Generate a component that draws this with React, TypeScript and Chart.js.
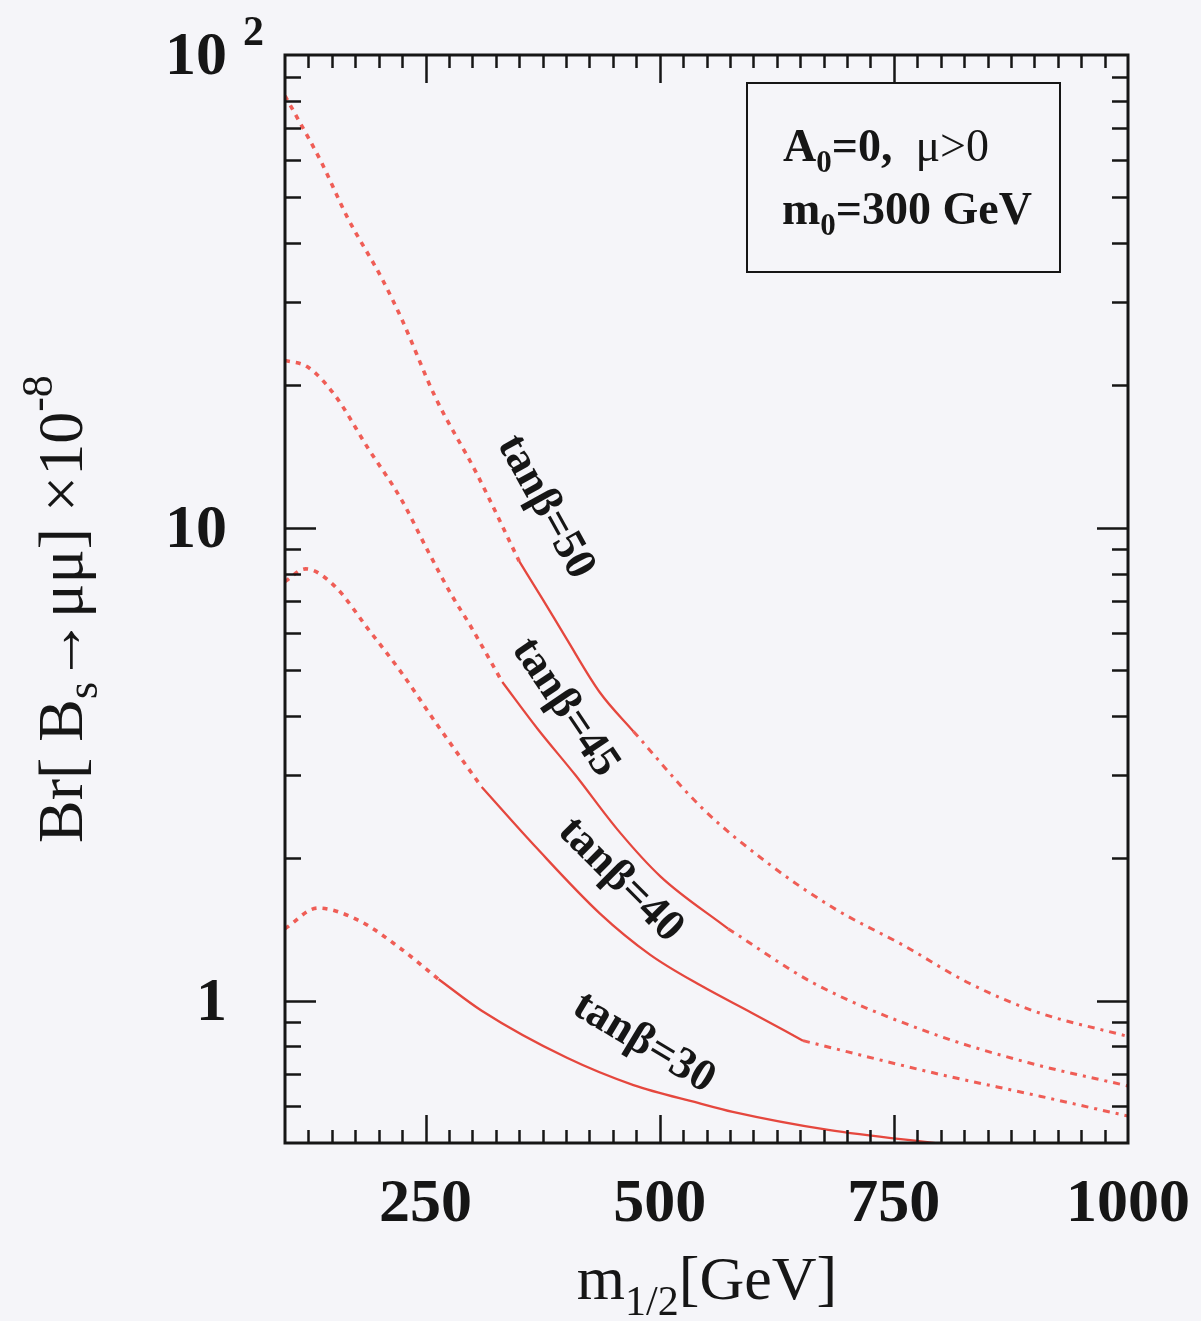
import React, { useEffect, useRef } from "react";
import { Chart, registerables } from "chart.js";

Chart.register(...registerables);

// Axis ranges
const X_MIN = 100;
const X_MAX = 1000;
const Y_MIN = 0.5;
const Y_MAX = 100;

// Tick values and labels
const X_MAJOR_TICKS = [250, 500, 750, 1000];
const X_MAJOR_LABELS = ["250", "500", "750", "1000"];
const X_MINOR_STEP = 25;
const Y_MAJOR_TICKS = [1, 10, 100];
const Y_MAJOR_LABELS = ["1", "10", "10"];
const Y_MINOR_TICKS = [0.6, 0.7, 0.8, 0.9, 2, 3, 4, 5, 6, 7, 8, 9, 20, 30, 40, 50, 60, 70, 80, 90];

// tanβ = 50 : m_1/2 [GeV] and Br × 10^-8
const M50_LOW = [100, 113, 138, 167, 203, 224, 261, 304, 350];
const BR50_LOW = [82, 73.7, 59.8, 45.2, 33.8, 27.8, 18.8, 13.1, 8.5];
const M50_MID = [350, 375, 400, 436, 472];
const BR50_MID = [8.5, 7.07, 5.85, 4.49, 3.71];
const M50_HIGH = [472, 544, 616, 688, 760, 830, 900, 1000];
const BR50_HIGH = [3.71, 2.57, 1.95, 1.56, 1.31, 1.09, 0.95, 0.84];

// tanβ = 45
const M45_LOW = [100, 124, 153, 189, 224, 253, 278, 296, 332];
const BR45_LOW = [22.6, 21.9, 19.1, 14.7, 11.5, 8.9, 7.2, 6.3, 4.72];
const M45_MID = [332, 370, 410, 455, 501, 573];
const BR45_MID = [4.72, 3.75, 3.0, 2.3, 1.83, 1.42];
const M45_HIGH = [573, 664, 789, 894, 1000];
const BR45_HIGH = [1.42, 1.09, 0.855, 0.739, 0.66];

// tanβ = 40
const M40_LOW = [100, 122, 153, 189, 224, 261, 310];
const BR40_LOW = [7.7, 8.19, 7.53, 6.1, 4.95, 3.87, 2.83];
const M40_MID = [310, 368, 436, 490, 544, 598, 653];
const BR40_MID = [2.83, 2.11, 1.53, 1.25, 1.076, 0.943, 0.823];
const M40_HIGH = [653, 793, 906, 1000];
const BR40_HIGH = [0.823, 0.703, 0.628, 0.57];

// tanβ = 30
const M30_LOW = [100, 135, 178, 221, 264];
const BR30_LOW = [1.42, 1.57, 1.48, 1.3, 1.11];
const M30_MID = [264, 310, 401, 472, 541, 578, 680, 800];
const BR30_MID = [1.11, 0.952, 0.757, 0.663, 0.608, 0.582, 0.533, 0.498];

// Curve annotations (text, anchor in data units, rotation in degrees)
const CURVE_LABELS = ["tanβ=50", "tanβ=45", "tanβ=40", "tanβ=30"];
const CURVE_LABEL_M = [378, 399, 458, 483];
const CURVE_LABEL_BR = [11.07, 4.17, 1.8, 0.814];
const CURVE_LABEL_ANGLE = [61, 56, 45, 31];

const SERIF = "'Liberation Serif', 'Times New Roman', serif";
const INK = "#161616";
const RED_SOLID = "#e5473e";
const RED_DASH = "#ef5d56";

const pts = (xs: number[], ys: number[]) => xs.map((x, i) => ({ x, y: ys[i] }));

type Run = { t: string; size: number; dy?: number; weight?: string };

function runsWidth(ctx: CanvasRenderingContext2D, runs: Run[]) {
  let w = 0;
  for (const r of runs) {
    ctx.font = `${r.weight ?? "normal"} ${r.size}px ${SERIF}`;
    w += ctx.measureText(r.t).width;
  }
  return w;
}

function drawRuns(ctx: CanvasRenderingContext2D, runs: Run[], x: number, y: number) {
  let cx = x;
  ctx.textAlign = "left";
  ctx.textBaseline = "alphabetic";
  for (const r of runs) {
    ctx.font = `${r.weight ?? "normal"} ${r.size}px ${SERIF}`;
    ctx.fillText(r.t, cx, y + (r.dy ?? 0));
    cx += ctx.measureText(r.t).width;
  }
}

const framePlugin = {
  id: "frameAndText",
  afterDraw(chart: any) {
    const { ctx, chartArea, scales } = chart;
    const { left, right, top, bottom } = chartArea;
    const xs = scales.x;
    const ys = scales.y;
    ctx.save();
    ctx.strokeStyle = INK;
    ctx.fillStyle = INK;
    ctx.lineCap = "butt";

    // frame
    ctx.lineWidth = 3;
    ctx.strokeRect(left, top, right - left, bottom - top);

    // x ticks, bottom and top, pointing inward
    ctx.lineWidth = 2.5;
    for (let v = X_MIN + X_MINOR_STEP; v < X_MAX; v += X_MINOR_STEP) {
      const px = Math.round(xs.getPixelForValue(v)) + 0.5;
      const len = X_MAJOR_TICKS.includes(v) ? 28 : 13;
      ctx.beginPath();
      ctx.moveTo(px, bottom);
      ctx.lineTo(px, bottom - len);
      ctx.moveTo(px, top);
      ctx.lineTo(px, top + len);
      ctx.stroke();
    }
    // y ticks, left and right, pointing inward
    const yTick = (v: number, len: number) => {
      const py = Math.round(ys.getPixelForValue(v)) + 0.5;
      ctx.beginPath();
      ctx.moveTo(left, py);
      ctx.lineTo(left + len, py);
      ctx.moveTo(right, py);
      ctx.lineTo(right - len, py);
      ctx.stroke();
    };
    Y_MINOR_TICKS.forEach((v) => yTick(v, 16));
    Y_MAJOR_TICKS.filter((v) => v < Y_MAX).forEach((v) => yTick(v, 31));

    // x tick labels
    ctx.font = `bold 62px ${SERIF}`;
    ctx.textAlign = "center";
    ctx.textBaseline = "alphabetic";
    X_MAJOR_TICKS.forEach((v, i) => {
      ctx.fillText(X_MAJOR_LABELS[i], xs.getPixelForValue(v), 1221);
    });

    // y tick labels
    ctx.textAlign = "right";
    ctx.textBaseline = "middle";
    Y_MAJOR_TICKS.forEach((v, i) => {
      ctx.font = `bold 62px ${SERIF}`;
      const py = ys.getPixelForValue(v);
      ctx.fillText(Y_MAJOR_LABELS[i], 227, py + 3);
      if (v === 100) {
        ctx.font = `bold 42px ${SERIF}`;
        ctx.textAlign = "left";
        ctx.textBaseline = "alphabetic";
        ctx.fillText("2", 243, 45);
        ctx.textAlign = "right";
        ctx.textBaseline = "middle";
      }
    });

    // x axis title
    const xTitle: Run[] = [
      { t: "m", size: 62 },
      { t: "1/2", size: 42, dy: 16 },
      { t: "[GeV]", size: 62 },
    ];
    const xw = runsWidth(ctx, xTitle);
    drawRuns(ctx, xTitle, 707 - xw / 2, 1299);

    // y axis title (rotated)
    const yTitle: Run[] = [
      { t: "Br[ B", size: 64 },
      { t: "s", size: 44, dy: 15 },
      { t: "→μμ] ×10", size: 64 },
      { t: "-8", size: 44, dy: -30 },
    ];
    ctx.save();
    ctx.translate(82, 843);
    ctx.rotate(-Math.PI / 2);
    drawRuns(ctx, yTitle, 0, 0);
    ctx.restore();

    // parameter box
    ctx.lineWidth = 2;
    ctx.strokeRect(747, 83, 313, 189);
    drawRuns(
      ctx,
      [
        { t: "A", size: 46, weight: "bold" },
        { t: "0", size: 31, dy: 11, weight: "bold" },
        { t: "=0,  ", size: 46, weight: "bold" },
        { t: "μ>0", size: 46 },
      ],
      783,
      161
    );
    drawRuns(
      ctx,
      [
        { t: "m", size: 46, weight: "bold" },
        { t: "0", size: 31, dy: 11, weight: "bold" },
        { t: "=300 GeV", size: 46, weight: "bold" },
      ],
      782,
      224
    );

    // curve labels
    ctx.font = `bold 45px ${SERIF}`;
    ctx.textAlign = "center";
    ctx.textBaseline = "middle";
    CURVE_LABELS.forEach((t, i) => {
      const px = xs.getPixelForValue(CURVE_LABEL_M[i]);
      const py = ys.getPixelForValue(CURVE_LABEL_BR[i]);
      ctx.save();
      ctx.translate(px, py);
      ctx.rotate((CURVE_LABEL_ANGLE[i] * Math.PI) / 180);
      ctx.fillText(t, 0, 0);
      ctx.restore();
    });

    ctx.restore();
  },
};

const DASHED = { borderColor: RED_DASH, borderWidth: 3.6, borderDash: [5, 6] };
const SOLID = { borderColor: RED_SOLID, borderWidth: 2.3, borderDash: [] as number[] };
const DASHDOT = { borderColor: RED_DASH, borderWidth: 3, borderDash: [7, 6, 3, 6] };

function line(xs: number[], ys: number[], style: any) {
  return {
    data: pts(xs, ys),
    ...style,
    pointRadius: 0,
    fill: false,
    cubicInterpolationMode: "monotone",
  };
}

export default function App() {
  const canvasRef = useRef<HTMLCanvasElement | null>(null);

  useEffect(() => {
    if (!canvasRef.current) return;
    const chart = new Chart(canvasRef.current, {
      type: "line",
      data: {
        datasets: [
          line(M50_LOW, BR50_LOW, DASHED),
          line(M50_MID, BR50_MID, SOLID),
          line(M50_HIGH, BR50_HIGH, DASHDOT),
          line(M45_LOW, BR45_LOW, DASHED),
          line(M45_MID, BR45_MID, SOLID),
          line(M45_HIGH, BR45_HIGH, DASHDOT),
          line(M40_LOW, BR40_LOW, DASHED),
          line(M40_MID, BR40_MID, SOLID),
          line(M40_HIGH, BR40_HIGH, DASHDOT),
          line(M30_LOW, BR30_LOW, DASHED),
          line(M30_MID, BR30_MID, SOLID),
        ] as any,
      },
      options: {
        animation: false,
        responsive: false,
        devicePixelRatio: 1,
        layout: { padding: { left: 285, right: 73, top: 55, bottom: 178 } },
        plugins: { legend: { display: false }, tooltip: { enabled: false } },
        scales: {
          x: {
            type: "linear",
            min: X_MIN,
            max: X_MAX,
            grid: { display: false, drawTicks: false },
            border: { display: false },
            ticks: { display: false },
          },
          y: {
            type: "logarithmic",
            min: Y_MIN,
            max: Y_MAX,
            grid: { display: false, drawTicks: false },
            border: { display: false },
            ticks: { display: false },
          },
        },
      },
      plugins: [framePlugin],
    });
    return () => chart.destroy();
  }, []);

  return (
    <div
      style={{
        position: "fixed",
        left: 0,
        top: 0,
        width: 1201,
        height: 1321,
        background: "#f5f5f9",
      }}
    >
      <canvas ref={canvasRef} width={1201} height={1321} style={{ width: 1201, height: 1321, display: "block" }} />
    </div>
  );
}
